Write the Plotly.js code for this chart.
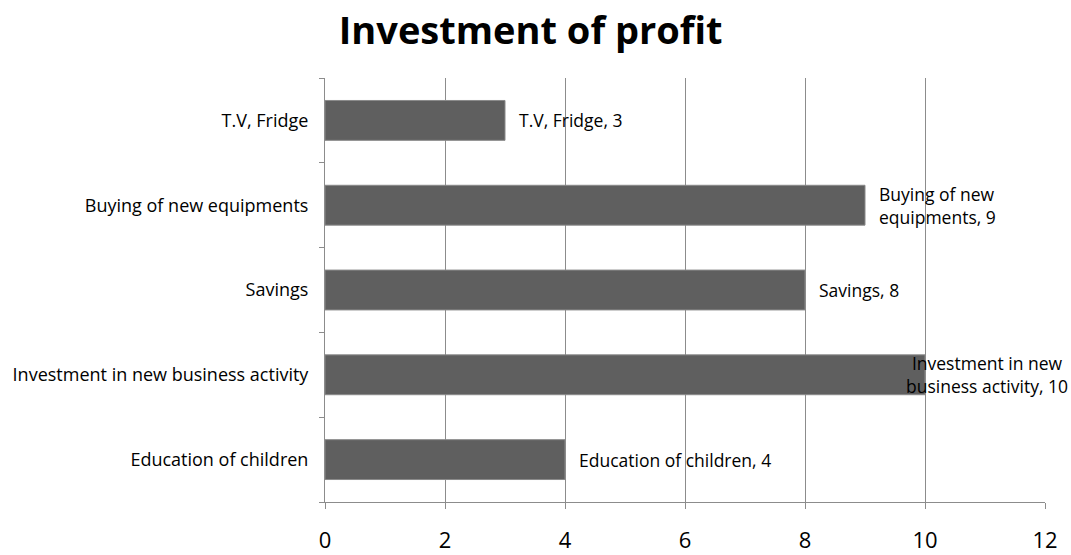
<!DOCTYPE html>
<html><head><meta charset="utf-8">
<script src="https://cdn.plot.ly/plotly-3.0.1.min.js"></script>
<style>body{margin:0;background:#fff}#chart{width:1071px;height:555px}</style>
</head><body><div id="chart"></div>
<script>
const categories = ["Education of children", "Investment in new business activity", "Savings", "Buying of new equipments", "T.V, Fridge"];
const values = [4, 10, 8, 9, 3];
const dataLabels = ["Education of children, 4", "Investment in new<br>business activity, 10", "Savings, 8", "Buying of new<br>equipments, 9", "T.V, Fridge, 3"];
const xTicks = [0, 2, 4, 6, 8, 10, 12];

const font = "Open Sans, Liberation Sans, sans-serif";
const annotations = categories.map((c, i) => {
  const overflow = values[i] >= 10;
  return {
    x: values[i], y: c, xref: 'x', yref: 'y',
    text: dataLabels[i], showarrow: false,
    xanchor: overflow ? 'center' : 'left',
    xshift: overflow ? 62 : 12,
    align: overflow ? 'center' : 'left',
    font: {family: font, size: 17.5, color: '#000'}
  };
});

Plotly.newPlot('chart', [{
  type: 'bar', orientation: 'h',
  y: categories, x: values,
  marker: {color: '#5f5f5f', line: {color: '#8a8a8a', width: 1}},
  hoverinfo: 'none'
}], {
  width: 1071, height: 555,
  margin: {l: 325, r: 26, t: 78, b: 53},
  paper_bgcolor: '#fff', plot_bgcolor: '#fff',
  bargap: 0.53,
  showlegend: false,
  title: {text: 'Investment of profit', xref: 'container', yref: 'container', x: 0.4955, xanchor: 'center', y: 0.945, yanchor: 'middle',
    font: {family: font, size: 38, color: '#000', weight: 'bold'}},
  xaxis: {range: [0, 12], tickvals: xTicks, ticktext: xTicks.map(String),
    showgrid: true, gridcolor: '#8c8c8c', gridwidth: 1, zeroline: false,
    showline: true, linecolor: '#8c8c8c', linewidth: 1,
    ticks: 'outside', ticklen: 6, tickcolor: '#8c8c8c',
    ticklabelstandoff: 13,
    tickfont: {family: font, size: 22, color: '#000'}, fixedrange: true},
  yaxis: {type: 'category', categoryarray: categories, categoryorder: 'array',
    showgrid: false, zeroline: false, showline: true, linecolor: '#8c8c8c', linewidth: 1,
    ticks: 'outside', tickson: 'boundaries', ticklen: 5, tickcolor: '#8c8c8c',
    ticklabelstandoff: 12,
    tickfont: {family: font, size: 18, color: '#000'}, fixedrange: true},
  annotations: annotations
}, {displayModeBar: false, staticPlot: true});
</script></body></html>
